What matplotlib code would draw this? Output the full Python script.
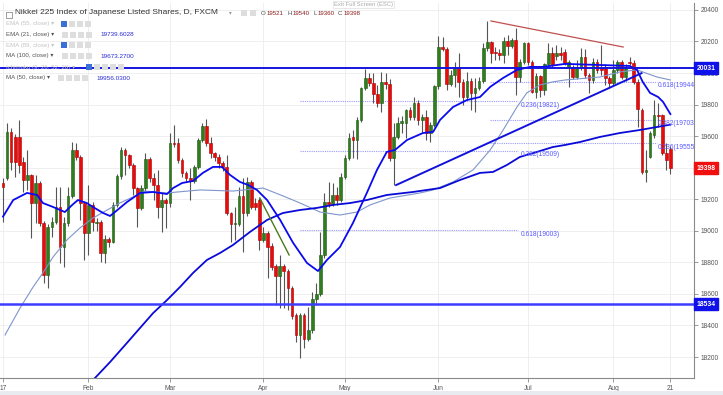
import matplotlib
matplotlib.use('Agg')
import matplotlib.pyplot as plt
import matplotlib.transforms as mtransforms
from matplotlib.patches import Rectangle
import numpy as np
import pandas as pd

plt.rcParams['font.family'] = ['Liberation Sans', 'DejaVu Sans']

# daily bars, Jan 3 - Aug 21 2017
dates = pd.bdate_range('2017-01-03', '2017-08-21')

opens = [19300, 19333, 19628, 19597, 19597, 19438, 19322, 19354, 19175, 19301,
         19048, 18720, 19026, 19058, 19153, 18900, 19048, 19221, 19512, 19470,
         19175, 18984, 19164, 19048, 19058, 18858, 18948, 18931, 19164, 19348,
         19512, 19481, 19417, 19270, 19143, 19270, 19453, 19333, 19291, 19153,
         19195, 19175, 19559, 19555, 19449, 19365, 19333, 19318, 19407, 19576,
         19665, 19555, 19491, 19470, 19428, 19405, 19113, 19043, 19043, 19221,
         19113, 19310, 19176, 19195, 18942, 18986, 18904, 18777, 18713, 18777,
         18745, 18637, 18465, 18339, 18465, 18314, 18371, 18568, 18599, 18847,
         19183, 19170, 19227, 19195, 19341, 19462, 19595, 19576, 19703, 19906,
         19969, 19937, 19867, 19810, 19944, 19930, 19462, 19595, 19684, 19684,
         19766, 19722, 19810, 19703, 19722, 19620, 19671, 19918, 20165, 20153,
         19931, 19988, 20032, 19944, 19848, 19950, 19874, 19906, 19950, 20159,
         20197, 20130, 20130, 20115, 20204, 20172, 20210, 19975, 20070, 20191,
         20070, 19880, 19980, 19890, 20058, 20127, 20110, 20130, 20133, 20039,
         20039, 19975, 20039, 20102, 19988, 19956, 20070, 20039, 20039, 19969,
         19937, 20020, 20070, 19975, 20070, 20064, 19944, 19766, 19373, 19470,
         19608, 19735, 19735, 19494, 19521]
highs = [19335, 19682, 19652, 19615, 19703, 19470, 19512, 19360, 19354, 19315,
         19060, 19040, 19090, 19280, 19280, 19090, 19280, 19565, 19559, 19480,
         19190, 19290, 19180, 19080, 19070, 18974, 18960, 19180, 19360, 19533,
         19525, 19490, 19430, 19280, 19290, 19491, 19470, 19367, 19386, 19248,
         19210, 19618, 19671, 19588, 19460, 19380, 19398, 19417, 19590, 19682,
         19707, 19597, 19500, 19490, 19440, 19481, 19120, 19151, 19278, 19335,
         19341, 19320, 19208, 19208, 19024, 19000, 18920, 18790, 18847, 18790,
         18760, 18650, 18480, 18480, 18480, 18517, 18612, 18669, 18993, 19240,
         19310, 19303, 19278, 19367, 19481, 19620, 19639, 19722, 19912, 20026,
         20000, 20000, 19924, 20007, 20000, 19960, 19684, 19722, 19728, 19772,
         19785, 19848, 19830, 19740, 19766, 19690, 19924, 20235, 20229, 20165,
         20020, 20070, 20127, 19960, 20007, 19970, 19969, 19975, 20191, 20330,
         20204, 20165, 20150, 20229, 20241, 20222, 20286, 20090, 20197, 20197,
         20080, 20000, 19990, 20064, 20191, 20165, 20178, 20165, 20150, 20083,
         20050, 20083, 20159, 20153, 20000, 20096, 20089, 20178, 20060, 19980,
         20083, 20083, 20083, 20060, 20102, 20083, 19960, 19780, 19512, 19633,
         19829, 19810, 19741, 19557, 19540]
lows = [19055, 19320, 19386, 19343, 19365, 19248, 19259, 18955, 19050, 19030,
        18669, 18637, 18963, 19040, 18794, 18773, 19030, 19205, 19450, 19069,
        18815, 18847, 19000, 19000, 18804, 18796, 18900, 18920, 19150, 19330,
        19354, 19400, 19227, 19026, 19130, 19250, 19310, 19195, 19081, 18994,
        19018, 19153, 19530, 19430, 19340, 19310, 19195, 19300, 19390, 19560,
        19540, 19460, 19440, 19400, 19380, 19100, 18929, 18942, 19030, 18866,
        19095, 19140, 19130, 18878, 18930, 18701, 18750, 18529, 18510, 18510,
        18498, 18440, 18295, 18194, 18257, 18300, 18355, 18530, 18585, 18830,
        19151, 19160, 19164, 19180, 19330, 19450, 19462, 19455, 19690, 19890,
        19920, 19810, 19785, 19753, 19900, 19443, 19290, 19580, 19620, 19588,
        19700, 19700, 19671, 19627, 19576, 19563, 19660, 19900, 20140, 19893,
        19920, 19912, 19848, 19798, 19830, 19766, 19753, 19890, 19940, 20140,
        20064, 20083, 20080, 20064, 20115, 20160, 19861, 19944, 20060, 20050,
        19874, 19842, 19850, 19861, 20040, 20030, 20080, 20080, 20051, 19912,
        19960, 19960, 20020, 19970, 19874, 19940, 20000, 19990, 19924, 19905,
        19920, 20000, 19960, 19950, 20051, 19930, 19658, 19360, 19310, 19460,
        19590, 19660, 19480, 19386, 19360]
closes = [19280, 19628, 19438, 19438, 19417, 19322, 19354, 19175, 19301, 19048,
          18720, 19026, 19058, 19153, 18900, 19048, 19221, 19512, 19470, 19175,
          18984, 19164, 19058, 19058, 18858, 18948, 18931, 19164, 19348, 19512,
          19481, 19417, 19270, 19143, 19270, 19453, 19333, 19291, 19153, 19195,
          19178, 19555, 19550, 19449, 19365, 19333, 19318, 19407, 19576, 19665,
          19555, 19491, 19470, 19428, 19407, 19113, 19043, 19050, 19221, 19113,
          19310, 19151, 19151, 18942, 18986, 18897, 18771, 18713, 18777, 18745,
          18637, 18459, 18339, 18465, 18314, 18371, 18568, 18599, 18847, 19183,
          19170, 19227, 19195, 19341, 19462, 19588, 19576, 19703, 19906, 19969,
          19937, 19867, 19810, 19944, 19930, 19462, 19595, 19684, 19696, 19766,
          19722, 19810, 19703, 19722, 19620, 19671, 19918, 20165, 20153, 19931,
          19988, 20032, 19944, 19848, 19950, 19874, 19906, 19950, 20159, 20197,
          20127, 20125, 20117, 20204, 20172, 20210, 19975, 20070, 20191, 20070,
          19880, 19980, 19890, 20058, 20127, 20051, 20130, 20115, 20064, 20070,
          19975, 20039, 20102, 19988, 19956, 20070, 20020, 20020, 19969, 19937,
          20020, 20070, 19975, 20039, 20064, 19944, 19773, 19373, 19386, 19620,
          19735, 19728, 19494, 19449, 19398]

# moving averages (bar index, value)
ema21_idx = [0, 2.5, 5.9, 8.4, 9.8, 12.3, 15.2, 17, 18.4, 20.6, 22.1, 24.6, 26.3, 27.5,
             30.5, 33.7, 36.9, 40.3, 41.8, 44, 46.7, 49.1, 51.6, 53.8, 55.8, 58.2, 60.2,
             62.4, 64.9, 68.1, 71.3, 74.7, 77.4, 79.6, 82.8, 86, 89.4, 91.9, 94.3, 96.3,
             99.3, 103.2, 105.7, 107.4, 110.6, 114, 117.2, 119.7, 122.9, 126.3, 129.5,
             132.7, 136.1, 138.1, 146.7, 154, 155.8, 157.2, 159, 161, 162.2, 164]
ema21_val = [19090, 19195, 19240, 19227, 19176, 19151, 19119, 19164, 19195, 19176, 19151,
             19113, 19094, 19119, 19183, 19240, 19246, 19233, 19271, 19303, 19316, 19367,
             19405, 19405, 19354, 19310, 19291, 19259, 19195, 19069, 18923, 18796, 18745,
             18815, 18897, 19050, 19240, 19386, 19500, 19512, 19576, 19620, 19627, 19703,
             19785, 19829, 19848, 19912, 19969, 20020, 20039, 20039, 20051, 20058, 20051,
             20045, 20020, 19944, 19874, 19848, 19817, 19740]

ma50_idx = [0.5, 4.2, 7.4, 9.8, 12.3, 15.7, 18.9, 22.1, 25.6, 28.7, 31.9, 34.9, 40.3,
            48.4, 56.5, 63.9, 68.8, 73, 77.9, 82.8, 87, 90.2, 95.1, 102.5, 105.7, 110.6,
            115.5, 119.7, 122.9, 126.3, 128.7, 131.9, 135.1, 138.1, 146.7, 151.6, 155.8,
            160.7, 164]
ma50_val = [18340, 18511, 18644, 18733, 18834, 18942, 19018, 19081, 19132, 19176, 19214,
            19252, 19240, 19259, 19252, 19271, 19221, 19176, 19119, 19100, 19119, 19164,
            19208, 19240, 19259, 19310, 19386, 19512, 19639, 19785, 19874, 19924, 19944,
            19956, 19975, 20007, 20020, 19975, 19956]

ma100_idx = [22.6, 26.3, 30, 33.7, 36.9, 40.3, 43.5, 46.7, 50.1, 53.3, 56.5, 60.7, 64.9,
             68.8, 73, 77.1, 81.1, 85.3, 89.4, 94.3, 100.7, 107.4, 112.3, 117.2, 120.4,
             123.8, 127, 131.2, 135.1, 138.1, 141.8, 146.7, 151.6, 156.5, 160.7, 164]
ma100_val = [18067, 18168, 18276, 18385, 18479, 18561, 18644, 18733, 18815, 18859, 18910,
             18993, 19069, 19113, 19132, 19145, 19164, 19176, 19195, 19227, 19246, 19271,
             19322, 19367, 19373, 19417, 19468, 19500, 19531, 19544, 19563, 19595, 19620,
             19639, 19658, 19673]

# drawings
hlines = [20031, 18534]
last_price = 19398
trend_blue_idx, trend_blue_val = [96.6, 156.9], [19290, 19999]
trend_red_idx, trend_red_val = [119.9, 152.4], [20330, 20165]
trend_green_idx, trend_green_val = [63.1, 70.3], [19208, 18847]
fib_left = [19821, 19509, 19003]
fib_left_names = ['0.236(19821)', '0.382(19509)', '0.618(19003)']
fib_right = [19944, 19703, 19555]
fib_right_names = ['0.618(19944)', '0.382(19703)', '0.236(19555)']

W, H = 723, 395
fig = plt.figure(figsize=(W / 100, H / 100), dpi=100)
ax = fig.add_axes([0, 1 - 378 / H, 694 / W, 375 / H])


def px(x, y):
    return x / W, 1 - y / H


x = np.arange(len(closes))
o = np.array(opens, float)
c = np.array(closes, float)
up = c >= o
body = np.maximum(np.abs(c - o), 7)
bottom = np.minimum(o, c)

ax.vlines(x, lows, highs, color='#555555', lw=0.8, zorder=2)
ax.bar(x[up], body[up], bottom=bottom[up], width=0.66, color='#2f7d1c',
       edgecolor='#1d5a10', lw=0.4, zorder=3)
ax.bar(x[~up], body[~up], bottom=bottom[~up], width=0.66, color='#ea0a0a',
       edgecolor='#a80000', lw=0.4, zorder=3)

ax.plot(ma50_idx, ma50_val, color='#7f95cc', lw=0.8, zorder=4)
ax.plot(ma100_idx, ma100_val, color='#0a0ad8', lw=1.3, zorder=4)
ax.plot(ema21_idx, ema21_val, color='#0a0af0', lw=1.3, zorder=4)

ax.plot(trend_blue_idx, trend_blue_val, color='#1111dd', lw=1.4, zorder=5)
ax.plot(trend_red_idx, trend_red_val, color='#c0504d', lw=0.9, zorder=5)
ax.plot(trend_green_idx, trend_green_val, color='#4a7a1c', lw=1.0, zorder=5)

ax.axhline(hlines[0], color='#1414e0', lw=1.4, zorder=6)
ax.axhline(hlines[1], color='#3d3dff', lw=1.8, zorder=6)

for lv, name in zip(fib_left, fib_left_names):
    ax.plot([73, 126.5], [lv, lv], color='#9a9aff', lw=0.8, ls=(0, (1, 1)), zorder=1)
    ax.text(127.3, lv - 25, name, color='#5a5aff', fontsize=4.8, va='center', zorder=6)
for lv, name in zip(fib_right, fib_right_names):
    ax.plot([119.7, 160.7], [lv, lv], color='#9a9aff', lw=0.8, ls=(0, (1, 1)), zorder=1)
    ax.text(161.0, lv - 25, name, color='#5a5aff', fontsize=4.8, va='center',
            clip_on=True, zorder=6)

# axes styling
ax.set_xlim(-0.74, 169.8)
ax.set_ylim(18067, 20444)
ax.yaxis.tick_right()
ytick_vals = list(range(18200, 20401, 200))
ax.set_yticks(ytick_vals)
# the last-price box hides the 19400 label on the original
ax.set_yticklabels(['' if v == 19400 else str(v) for v in ytick_vals])

month_start = [i for i in range(len(dates)) if i == 0 or dates[i].month != dates[i - 1].month]
tick_pos = month_start + [len(dates) - 1]
tick_lab = ['17'] + [dates[i].strftime('%b') for i in month_start[1:]] + [str(dates[-1].day)]
ax.set_xticks(tick_pos)
ax.set_xticklabels(tick_lab)
ax.tick_params(axis='both', labelsize=4.8, colors='#888888', labelcolor='#555555',
               length=3, width=0.6, pad=2)
ax.grid(True, color='#ececec', lw=0.6)
ax.set_axisbelow(True)
for side in ['left', 'top']:
    ax.spines[side].set_visible(False)
for side in ['right', 'bottom']:
    ax.spines[side].set_color('#8a8a8a')
    ax.spines[side].set_linewidth(0.8)

trans = mtransforms.blended_transform_factory(ax.transAxes, ax.transData)
for val, col in [(hlines[0], '#1010e8'), (hlines[1], '#1010e8'), (last_price, '#f01010')]:
    ax.text(1.004, val, str(val), transform=trans, color='white', fontsize=4.9,
            fontweight='bold', va='center', ha='left', clip_on=False, zorder=10,
            bbox=dict(boxstyle='square,pad=0.35', fc=col, ec=col))

# header / legend
fig.patches.append(Rectangle(px(6, 17.5), 6 / W, 6 / H, fill=False, ec='#777777', lw=0.5,
                             transform=fig.transFigure))
fig.text(*px(15, 13), 'Nikkei 225 Index of Japanese Listed Shares, D, FXCM',
         fontsize=6, color='#333333', va='center')
fig.text(*px(229, 13), '\u25be', fontsize=4, color='#999999', va='center',
         family=['DejaVu Sans'])
for xi in [241, 250]:
    fig.patches.append(Rectangle(px(xi, 16), 6 / W, 6 / H, fc='#dddddd', ec='none',
                                 transform=fig.transFigure))
ohlc = [('O', 261, '#444444'), (str(opens[-1]), 267, '#8b1a1a'),
        ('H', 287, '#444444'), (str(highs[-1]), 293, '#8b1a1a'),
        ('L', 313, '#444444'), (str(lows[-1]), 318, '#8b1a1a'),
        ('C', 338, '#444444'), (str(closes[-1]), 344, '#8b1a1a')]
for s, xp, col in ohlc:
    fig.text(*px(xp, 13.5), s, fontsize=4.4, color=col, va='center')

rows = [('EMA (55, close)', 23.5, False, None, 61),
        ('EMA (21, close)', 34.5, True, '19739.6028', 62),
        ('EMA (89, close)', 45, False, None, 61),
        ('MA (100, close)', 56, True, '19673.2700', 62),
        ('Ichimoku (9, 26, 52, 26)', 67, False, None, 86),
        ('MA (50, close)', 78, True, '19956.0300', 58)]
for label, yy, active, value, icon_x in rows:
    fig.text(*px(6, yy), label + ' \u25be', fontsize=4.4,
             color='#555555' if active else '#c4c4c4', va='center',
             family=['Liberation Sans', 'DejaVu Sans'])
    n_icons = 5 if label.startswith('Ichimoku') else 4
    for k in range(n_icons):
        fc = '#3b6fd8' if (k == 0 and not active) else '#dedede'
        fig.patches.append(Rectangle(px(icon_x + 8 * k, yy + 3), 6 / W, 6 / H, fc=fc,
                                     ec='none', transform=fig.transFigure))
    if value:
        fig.text(*px(icon_x + 38, yy), value, fontsize=4.6, color='#2a2ad8', va='center')

fig.text(*px(334, 4.5), 'Exit Full Screen (ESC)', fontsize=4.2, color='#aaaaaa', va='center',
         bbox=dict(boxstyle='square,pad=0.25', fc='white', ec='#dddddd', lw=0.5))
fig.patches.append(Rectangle((0, 0), 1, 4 / H, fc='#e8ebef', ec='none',
                             transform=fig.transFigure))

fig.savefig('out.png', dpi=100)
